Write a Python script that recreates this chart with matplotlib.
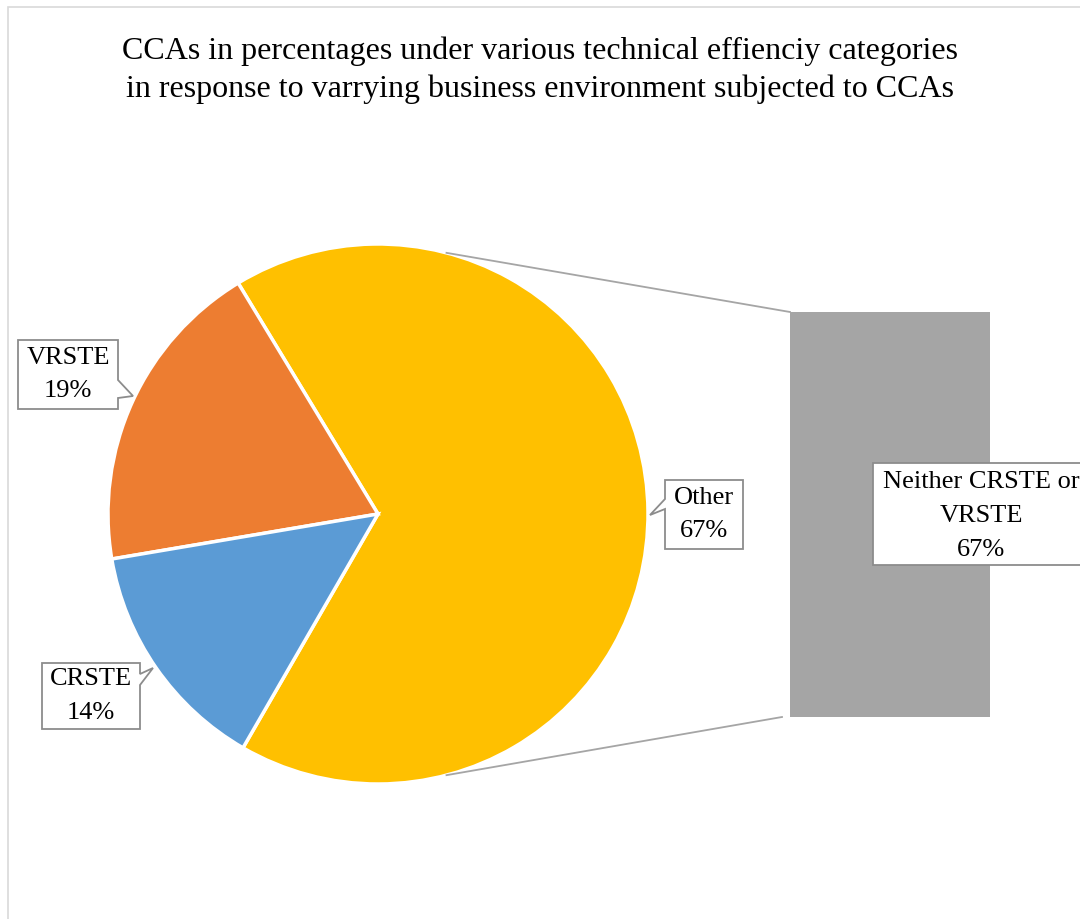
import matplotlib.pyplot as plt
from matplotlib.patches import Polygon, Rectangle
import numpy as np

plt.rcParams['font.family'] = ['Liberation Serif', 'DejaVu Serif']

# pie slices (primary plot) and the split-out bar (secondary plot)
categories = ['Other', 'VRSTE', 'CRSTE']
values = [67, 19, 14]
colors = ['#FFC000', '#ED7D31', '#5B9BD5']
bar_label = 'Neither CRSTE or\nVRSTE'
bar_value = 67
bar_color = '#A5A5A5'

title = ('CCAs in percentages under various technical effienciy categories\n'
         'in response to varrying business environment subjected to CCAs')

W, H = 1080, 919
fig = plt.figure(figsize=(W / 100, H / 100), dpi=100)
ax = fig.add_axes([0, 0, 1, 1])

# chart area border
fig.patches.append(Rectangle((8 / W, -0.1), 1.2, 1 - 7 / H + 0.1,
                             transform=fig.transFigure, fill=False,
                             edgecolor='#D9D9D9', linewidth=1.2))

cx, cy, r = 378, H - 514, 270
wedges, _ = ax.pie(values, colors=colors, startangle=240, center=(cx, cy),
                   radius=r, wedgeprops=dict(edgecolor='white', linewidth=2.5))

# secondary bar: full column height represents the split-out share
bar_x, bar_w, bar_bottom, bar_h = 890, 200, H - 717, 405
ax.bar([bar_x], [bar_value * bar_h / bar_value], width=bar_w, bottom=bar_bottom,
       color=bar_color)

# connector lines from pie edge to bar corners
a = np.deg2rad(75.3)
ax.plot([cx + r * np.cos(a), bar_x - bar_w / 2], [cy + r * np.sin(a), bar_bottom + bar_h],
        color='#A5A5A5', lw=1.3)
ax.plot([cx + r * np.cos(a), bar_x - bar_w / 2 - 8], [cy - r * np.sin(a), bar_bottom],
        color='#A5A5A5', lw=1.3)


def callout(x0, y0, x1, y1, tip, side, base, text, dy=0):
    # rectangle (pixel coords, y down) with a pointer notch on one side
    X = lambda p: (p[0], H - p[1])
    tl, tr, br, bl = (x0, y0), (x1, y0), (x1, y1), (x0, y1)
    if side == 'right':
        pts = [tl, tr, (x1, base[0]), tip, (x1, base[1]), br, bl]
    elif side == 'left':
        pts = [tl, tr, br, bl, (x0, base[1]), tip, (x0, base[0])]
    else:
        pts = [tl, tr, br, bl]
    ax.add_patch(Polygon([X(p) for p in pts], closed=True, facecolor='white',
                         edgecolor='#8C8C8C', linewidth=1.3, clip_on=False))
    ax.text((x0 + x1) / 2, H - (y0 + y1) / 2 - dy, text, ha='center', va='center',
            fontsize=19, linespacing=1.7)


labels = {c: f'{c}\n{v}%' for c, v in zip(categories, values)}
callout(18, 340, 118, 409, (133, 396), 'right', (380, 398), labels['VRSTE'])
callout(42, 663, 140, 729, (153, 668), 'right', (674, 685), labels['CRSTE'])
callout(665, 480, 743, 549, (650, 515), 'left', (499, 509), labels['Other'])
callout(873, 463, 1089, 565, None, None, None, f'{bar_label}\n{bar_value}%', dy=2)

ax.text(W / 2, H - 70, title, ha='center', va='center', fontsize=23,
        linespacing=1.4)

ax.set_xlim(0, W)
ax.set_ylim(0, H)
ax.set_aspect('auto')
ax.axis('off')

fig.savefig('out.png', dpi=100, facecolor='white')
